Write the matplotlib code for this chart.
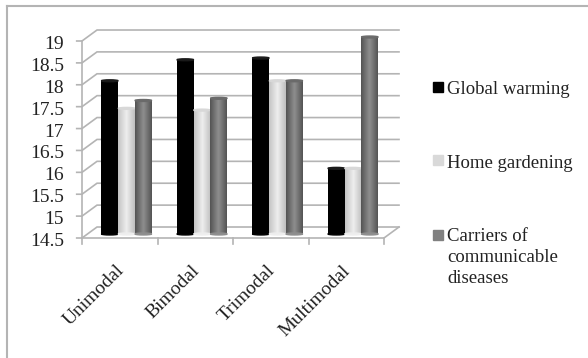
import numpy as np
import matplotlib
matplotlib.use('Agg')
import matplotlib.pyplot as plt
from matplotlib.patches import Ellipse, Rectangle

categories = ['Unimodal', 'Bimodal', 'Trimodal', 'Multimodal']
global_warming = [18.0, 18.48, 18.52, 16.0]
home_gardening = [17.37, 17.33, 18.0, 16.0]
carriers = [17.55, 17.6, 18.0, 19.0]
series_names = ['Global warming', 'Home gardening',
                'Carriers of\ncommunicable\ndiseases']
yticks = [14.5, 15, 15.5, 16, 16.5, 17, 17.5, 18, 18.5, 19]
tick_labels = ['14.5', '15', '15.5', '16', '16.5', '17', '17.5', '18', '18.5', '19']

W, H = 588, 358
GREY = '#b4b4b4'
plt.rcParams['font.family'] = ['Liberation Serif', 'DejaVu Serif']

fig = plt.figure(figsize=(W / 100, H / 100), dpi=100)
fig.patch.set_facecolor('white')
# axes = front of the floor, left wall to right edge
ax = fig.add_axes([82 / W, 1 - 238 / H, 302 / W, 197 / H])
ax.set_xlim(0, 4)
ax.set_ylim(14.5, 19)
ax.axis('off')

# fake 3d depth in data units
dx = 15 / 75.5
dy = 11 / 43.8
lift = 4 / 43.8

for y in yticks:
    ax.plot([-0.07, 0, dx, 4 + dx], [y, y, y + dy, y + dy], color=GREY, lw=1.2,
            clip_on=False, zorder=1, solid_joinstyle='miter')
ax.plot([0, 0], [14.5, 19], color=GREY, lw=1.2, clip_on=False, zorder=1)
ax.plot([0, 4, 4 + dx], [14.5, 14.5, 14.5 + dy], color=GREY, lw=1.2, clip_on=False, zorder=1)
for i in range(5):
    ax.plot([i, i], [14.5, 14.5 - 0.14], color=GREY, lw=1.2, clip_on=False, zorder=1)

for y, lab in zip(yticks, tick_labels):
    ax.text(-0.24, y - 0.08, lab, ha='right', va='center', fontsize=14, color='#222222')

for i, c in enumerate(categories):
    ax.text(i + 0.44, 14.5 - 0.55, c, rotation=45, rotation_mode='anchor', ha='right',
            va='top', fontsize=14, color='#222222')

# cylinder shading per series: edge, mid, edge colours
shades = [('#000000', '#000000', '#000000'),
          ('#c4c4c4', '#eeeeee', '#c0c0c0'),
          ('#555555', '#8e8e8e', '#555555')]
top_cols = ['#1a1a1a', '#d8d8d8', '#6a6a6a']
bar_w = 0.222
cap_h = 0.022
group_c = 0.59
all_series = [global_warming, home_gardening, carriers]

for s, vals in enumerate(all_series):
    cmap = matplotlib.colors.LinearSegmentedColormap.from_list('c', shades[s])
    for i, v in enumerate(vals):
        x0 = i + group_c + (s - 1.5) * bar_w
        bottom = 14.5 + lift
        top = v + lift
        im = ax.imshow(np.linspace(0, 1, 32).reshape(1, -1), cmap=cmap, aspect='auto',
                       extent=[x0, x0 + bar_w, bottom, top], zorder=3 + s)
        im.set_clip_on(False)
        ax.add_patch(Ellipse((x0 + bar_w / 2, bottom), bar_w, cap_h * 2, color=shades[s][1],
                             zorder=3 + s, clip_on=False))
        ax.add_patch(Ellipse((x0 + bar_w / 2, top), bar_w, cap_h * 2, color=top_cols[s],
                             zorder=3.5 + s, clip_on=False))
ax.set_xlim(0, 4)
ax.set_ylim(14.5, 19)

# legend drawn in figure pixels
legend_y = [87, 160, 235]
legend_text_y = [91, 165, 238]
legend_cols = ['#000000', '#d9d9d9', '#808080']
for y, ty, name, col in zip(legend_y, legend_text_y, series_names, legend_cols):
    fig.add_artist(Rectangle((433 / W, 1 - (y + 5) / H), 10 / W, 10 / H, color=col,
                             transform=fig.transFigure))
    fig.text(447 / W, 1 - (ty - 10) / H, name, ha='left', va='top', fontsize=13.5,
             color='#222222', linespacing=1.3)

# outer frame, only left and top show
fig.add_artist(plt.Line2D([7 / W, 7 / W], [0, 1 - 6 / H], color=GREY, lw=1.5))
fig.add_artist(plt.Line2D([7 / W, 1], [1 - 6 / H, 1 - 6 / H], color=GREY, lw=1.5))

fig.savefig('out.png', dpi=100)
